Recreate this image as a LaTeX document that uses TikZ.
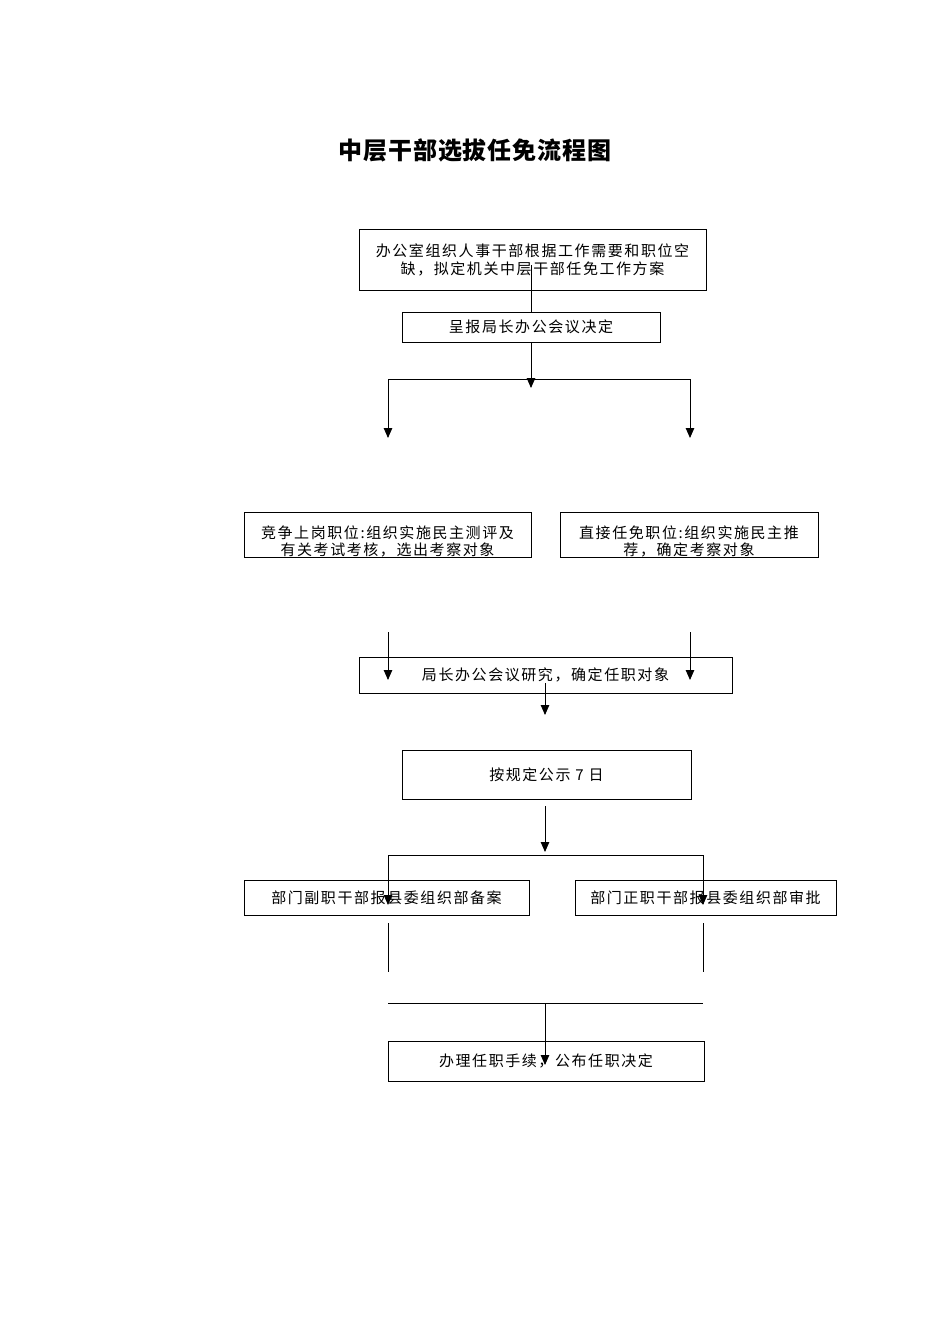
\documentclass[tikz,border=0pt]{standalone}
\usepackage{fontspec}
\usepackage{tikz}
\usetikzlibrary{arrows.meta}
\newfontfamily\cjk[LetterSpace=10.5]{Noto Sans CJK SC}
\newfontfamily\cjktitle[LetterSpace=4]{Noto Sans CJK SC}
\tikzset{
	box/.style={draw, line width=0.9pt, inner sep=0pt, align=center, font=\fontsize{15}{18}\selectfont\cjk},
	lbl/.style={align=center, inner sep=0pt, font=\fontsize{15}{16.5}\selectfont\cjk},
	wire/.style={line width=0.9pt},
	arr/.style={line width=0.9pt, -{Triangle[length=10pt,width=8.5pt]}}
}

\begin{document}
\begin{tikzpicture}[x=1pt, y=-1pt]
			%%%%% START %%%%%
			\useasboundingbox (0, 0) rectangle (950, 1344);
			
			\node[font=\fontsize{24}{26}\selectfont\cjktitle\bfseries] (title) at (475, 150) {中层干部选拔任免流程图};
			
			\node[box, minimum width=347, minimum height=61] (plan) at (532.5, 259.5) {办公室组织人事干部根据工作需要和职位空\\缺，拟定机关中层干部任免工作方案};
			\node[box, minimum width=258, minimum height=30] (report) at (531, 327) {呈报局长办公会议决定};
			
			\node[box, minimum width=287, minimum height=45, label={[lbl, yshift=-7pt]center:竞争上岗职位:组织实施民主测评及\\有关考试考核，选出考察对象}] (compete) at (387.5, 534.5) {};
			\node[box, minimum width=258, minimum height=45, label={[lbl, yshift=-7pt]center:直接任免职位:组织实施民主推\\荐，确定考察对象}] (direct) at (689, 534.5) {};
			
			\node[box, minimum width=373, minimum height=36] (study) at (545.5, 675) {局长办公会议研究，确定任职对象};
			\node[box, minimum width=289, minimum height=49] (notice) at (546.5, 774.5) {按规定公示 7 日};
			
			\node[box, minimum width=285, minimum height=35] (deputy) at (386.5, 897.5) {部门副职干部报县委组织部备案};
			\node[box, minimum width=261, minimum height=35] (chief) at (705.5, 897.5) {部门正职干部报县委组织部审批};
			
			\node[box, minimum width=316, minimum height=40] (finish) at (546, 1061) {办理任职手续，公布任职决定};
			
			% free ends
			\coordinate (planout) at (531, 265);
			\coordinate (forkA) at (531, 388);
			\coordinate (forkAL) at (388, 379);
			\coordinate (forkAR) at (690, 379);
			\coordinate (tipAL) at (388, 438);
			\coordinate (tipAR) at (690, 438);
			\coordinate (startBL) at (388, 632);
			\coordinate (startBR) at (690, 632);
			\coordinate (tipBL) at (388, 680);
			\coordinate (tipBR) at (690, 680);
			\coordinate (studyout) at (545, 683);
			\coordinate (tipC) at (545, 715);
			\coordinate (noticeout) at (545, 806);
			\coordinate (tipD) at (545, 852);
			\coordinate (forkDL) at (388, 855);
			\coordinate (forkDR) at (703, 855);
			\coordinate (tipDL) at (388, 905);
			\coordinate (tipDR) at (703, 905);
			\coordinate (startEL) at (388, 923);
			\coordinate (startER) at (703, 923);
			\coordinate (endEL) at (388, 972);
			\coordinate (endER) at (703, 972);
			\coordinate (joinL) at (388, 1003);
			\coordinate (joinR) at (703, 1003);
			\coordinate (joinM) at (545, 1003);
			\coordinate (tipE) at (545, 1065);
			
			\draw[wire] (planout) -- (report.north);
			\draw[arr] (report.south) -- (forkA);
			\draw[wire] (forkAL) -- (forkAR);
			\draw[arr] (forkAL) -- (tipAL);
			\draw[arr] (forkAR) -- (tipAR);
			
			\draw[arr] (startBL) -- (tipBL);
			\draw[arr] (startBR) -- (tipBR);
			\draw[arr] (studyout) -- (tipC);
			
			\draw[arr] (noticeout) -- (tipD);
			\draw[wire] (forkDL) -- (forkDR);
			\draw[arr] (forkDL) -- (tipDL);
			\draw[arr] (forkDR) -- (tipDR);
			
			\draw[wire] (startEL) -- (endEL);
			\draw[wire] (startER) -- (endER);
			\draw[wire] (joinL) -- (joinR);
			\draw[arr] (joinM) -- (tipE);
			
			%%%%% END %%%%%
		\end{tikzpicture}
\end{document}
